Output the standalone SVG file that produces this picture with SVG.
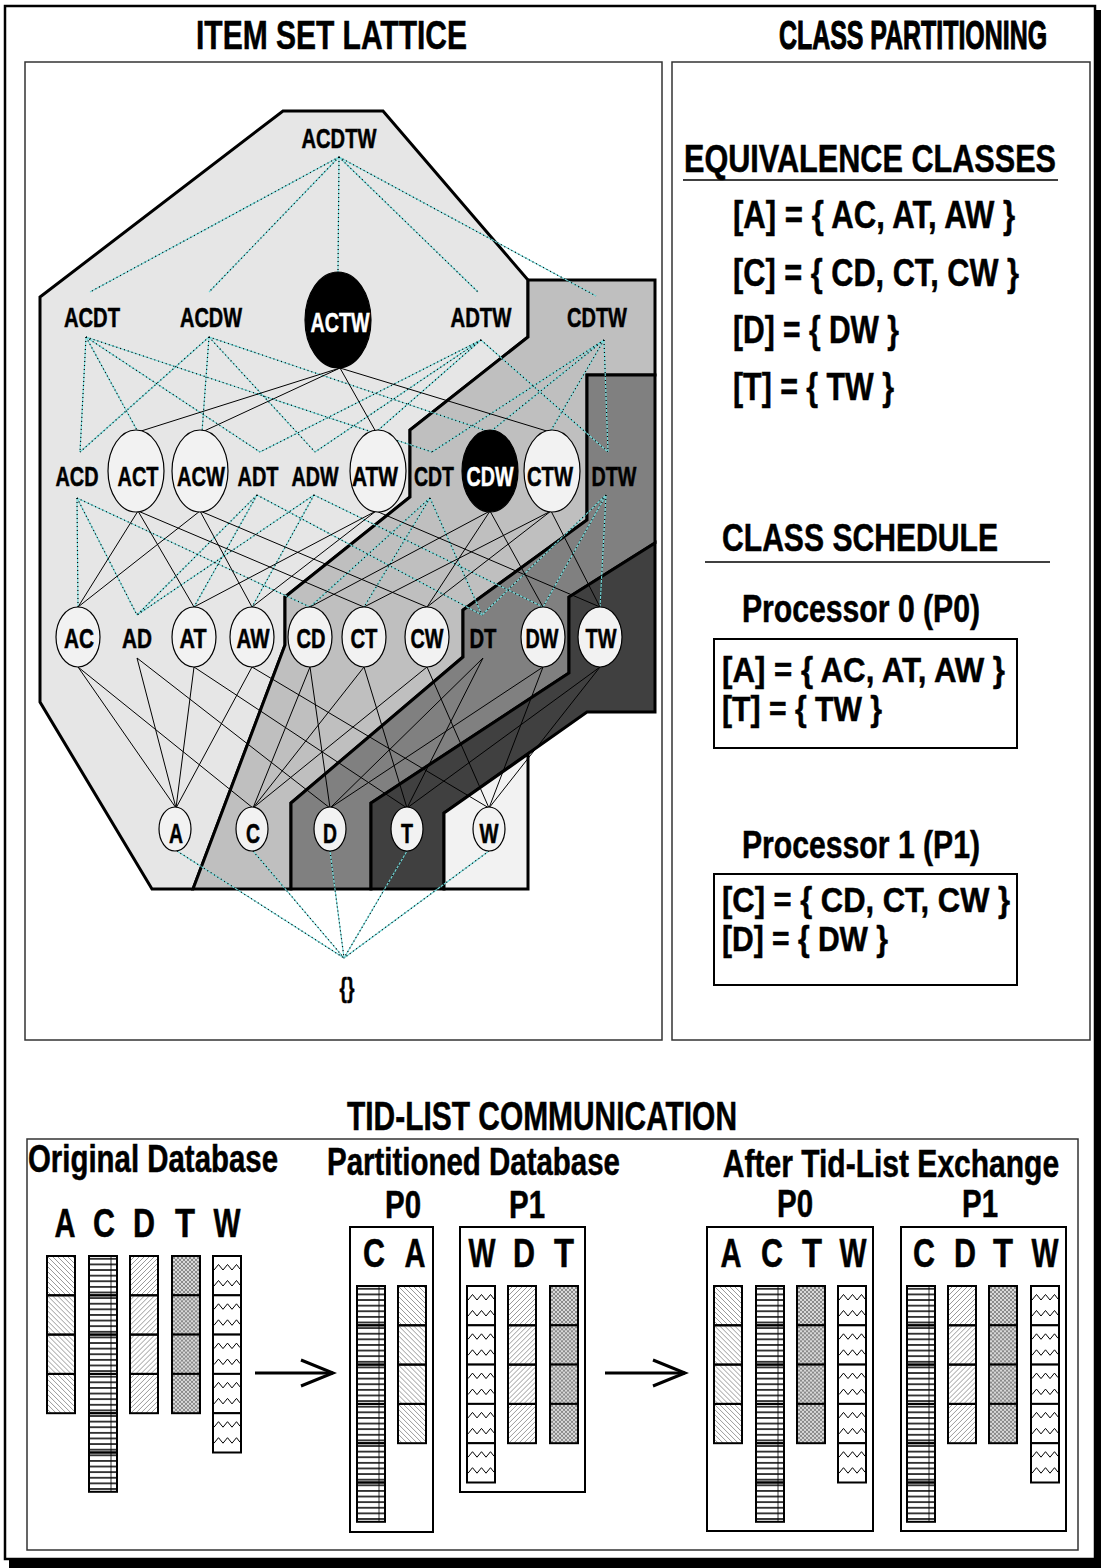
<svg xmlns="http://www.w3.org/2000/svg" width="1101" height="1568" viewBox="0 0 1101 1568">
<style>
text{font-family:"Liberation Sans",Arial,sans-serif;font-weight:bold;fill:#000;stroke:#000;stroke-width:0.5px}
.n{font-size:27px;text-anchor:middle}
.w{fill:#fff;stroke:#fff}
.t{font-size:38px}
.b{font-size:35px}
.T{font-size:40px}
.L{font-size:40px;text-anchor:middle}
.c{text-anchor:middle}
.hv{stroke-width:1.1px}
.el{fill:#f2f2f2;stroke:#000;stroke-width:1.2}
.blk{fill:#000;stroke:#000;stroke-width:1.2}
.reg{stroke:#000;stroke-width:3;stroke-linejoin:miter}
.panel{fill:none;stroke:#333;stroke-width:1.5}
.box{fill:none;stroke:#000;stroke-width:2}
</style>
<defs>
<pattern id="pA" patternUnits="userSpaceOnUse" width="5" height="5"><path d="M-1,-1L6,6M-1,4L1,6M4,-1L6,1" stroke="#333" stroke-width="0.5"/></pattern>
<pattern id="pD" patternUnits="userSpaceOnUse" width="5" height="5"><path d="M-1,6L6,-1M-1,1L1,-1M4,6L6,4" stroke="#333" stroke-width="0.5"/></pattern>
<pattern id="pT" patternUnits="userSpaceOnUse" width="4" height="4"><rect width="4" height="4" fill="#d8d8d8"/><path d="M0,0L4,4M0,4L4,0" stroke="#555" stroke-width="0.6"/></pattern>
<pattern id="pC" patternUnits="userSpaceOnUse" width="28" height="5.614"><line x1="0" y1="2.8" x2="28" y2="2.8" stroke="#000" stroke-width="1.5"/></pattern>
<marker id="head" markerUnits="userSpaceOnUse" markerWidth="40" markerHeight="32" refX="34" refY="15" orient="auto"><path d="M2,2L34,15L2,28" fill="none" stroke="#000" stroke-width="3"/></marker>
<g id="cA"><rect width="28" height="39.3" fill="url(#pA)" stroke="#000" stroke-width="2"/></g>
<g id="cD"><rect width="28" height="39.3" fill="url(#pD)" stroke="#000" stroke-width="2"/></g>
<g id="cT"><rect width="28" height="39.3" fill="url(#pT)" stroke="#000" stroke-width="2"/></g>
<g id="cC"><rect width="28" height="39.3" fill="url(#pC)" stroke="#000" stroke-width="2"/><line x1="22" y1="0" x2="22" y2="39.3" stroke="#000" stroke-width="0.8"/></g>
<g id="cW"><rect width="28" height="39.3" fill="#fff" stroke="#000" stroke-width="2"/><polyline points="1,14 5.5,8.5 10,14 14.5,8.5 19,14 23.5,8.5 27,13" fill="none" stroke="#000" stroke-width="1"/><polyline points="1,30 5.5,24.5 10,30 14.5,24.5 19,30 23.5,24.5 27,29" fill="none" stroke="#000" stroke-width="1"/></g>
<g id="colA"><use href="#cA"/><use href="#cA" y="39.3"/><use href="#cA" y="78.6"/><use href="#cA" y="117.9"/></g>
<g id="colD"><use href="#cD"/><use href="#cD" y="39.3"/><use href="#cD" y="78.6"/><use href="#cD" y="117.9"/></g>
<g id="colT"><use href="#cT"/><use href="#cT" y="39.3"/><use href="#cT" y="78.6"/><use href="#cT" y="117.9"/></g>
<g id="colW"><use href="#cW"/><use href="#cW" y="39.3"/><use href="#cW" y="78.6"/><use href="#cW" y="117.9"/><use href="#cW" y="157.2"/></g>
<g id="colC"><use href="#cC"/><use href="#cC" y="39.3"/><use href="#cC" y="78.6"/><use href="#cC" y="117.9"/><use href="#cC" y="157.2"/><use href="#cC" y="196.5"/></g>
</defs>

<!-- outer frame -->
<rect x="1095" y="10" width="6" height="1558" fill="#000"/>
<rect x="9" y="1559" width="1092" height="9" fill="#000"/>
<rect x="5" y="6" width="1090" height="1553" fill="#fff" stroke="#000" stroke-width="2.5"/>

<!-- titles -->
<text class="T" x="196" y="49" textLength="271" lengthAdjust="spacingAndGlyphs">ITEM SET LATTICE</text>
<text class="T c hv" transform="translate(913,49) scale(0.623,1)">CLASS PARTITIONING</text>

<!-- panels -->
<rect class="panel" x="25" y="62" width="637" height="978"/>
<rect class="panel" x="672" y="62" width="418" height="978"/>

<!-- class regions -->
<g id="regions">
<polygon class="reg" fill="#e6e6e6" points="283,111 383,111 528,280 528,337 410,430 410,497 285,597 285,645 193,889 152,889 40,702 40,297"/>
<polygon class="reg" fill="#bfbfbf" points="528,280 655,280 655,375 587,375 587,520 463,610 463,657 291,803 291,889 193,889 285,645 285,597 410,497 410,430 528,337"/>
<polygon class="reg" fill="#808080" points="587,375 655,375 655,543 569,597 569,673 371,803 371,889 291,889 291,803 463,657 463,610 587,520"/>
<polygon class="reg" fill="#404040" points="655,543 655,712 587,712 444,813 444,889 371,889 371,803 569,673 569,597"/>
<polygon class="reg" fill="#f2f2f2" points="528,754 528,889 444,889 444,813"/>
</g>

<!-- connectors -->
<g id="connectors" fill="none">
<g stroke="#70d8d8" stroke-width="1.1">
<g id="dotted">
<line x1="339" y1="157" x2="90" y2="292"/>
<line x1="339" y1="157" x2="209" y2="292"/>
<line x1="339" y1="157" x2="338" y2="272"/>
<line x1="339" y1="157" x2="478" y2="292"/>
<line x1="339" y1="157" x2="596" y2="296"/>
<line x1="86" y1="337" x2="80" y2="452"/>
<line x1="86" y1="337" x2="138" y2="432"/>
<line x1="86" y1="337" x2="260" y2="452"/>
<line x1="86" y1="337" x2="432" y2="452"/>
<line x1="209" y1="337" x2="80" y2="452"/>
<line x1="209" y1="337" x2="202" y2="432"/>
<line x1="209" y1="337" x2="315" y2="452"/>
<line x1="209" y1="337" x2="490" y2="432"/>
<line x1="481" y1="340" x2="260" y2="452"/>
<line x1="481" y1="340" x2="315" y2="452"/>
<line x1="481" y1="340" x2="376" y2="432"/>
<line x1="481" y1="340" x2="608" y2="452"/>
<line x1="604" y1="340" x2="432" y2="452"/>
<line x1="604" y1="340" x2="490" y2="432"/>
<line x1="604" y1="340" x2="550" y2="432"/>
<line x1="604" y1="340" x2="608" y2="452"/>
<line x1="77" y1="498" x2="78" y2="607"/>
<line x1="77" y1="498" x2="137" y2="615"/>
<line x1="77" y1="498" x2="310" y2="607"/>
<line x1="257" y1="495" x2="137" y2="615"/>
<line x1="257" y1="495" x2="194" y2="607"/>
<line x1="257" y1="495" x2="482" y2="615"/>
<line x1="314" y1="495" x2="137" y2="615"/>
<line x1="314" y1="495" x2="252" y2="607"/>
<line x1="314" y1="495" x2="543" y2="607"/>
<line x1="430" y1="498" x2="310" y2="607"/>
<line x1="430" y1="498" x2="364" y2="607"/>
<line x1="430" y1="498" x2="482" y2="615"/>
<line x1="606" y1="495" x2="482" y2="615"/>
<line x1="606" y1="495" x2="543" y2="607"/>
<line x1="606" y1="495" x2="600" y2="607"/>
<line x1="177" y1="851" x2="344" y2="958"/>
<line x1="253" y1="851" x2="344" y2="958"/>
<line x1="330" y1="851" x2="344" y2="958"/>
<line x1="407" y1="851" x2="344" y2="958"/>
<line x1="489" y1="851" x2="344" y2="958"/>
</g>
</g>
<use href="#dotted" stroke="#000" stroke-width="1.2" stroke-dasharray="1 3"/>
<g stroke="#000" stroke-width="1">
<line x1="340" y1="368" x2="138" y2="432"/>
<line x1="340" y1="368" x2="202" y2="432"/>
<line x1="340" y1="368" x2="376" y2="432"/>
<line x1="340" y1="368" x2="550" y2="432"/>
<line x1="138" y1="511" x2="78" y2="607"/>
<line x1="138" y1="511" x2="194" y2="607"/>
<line x1="138" y1="511" x2="364" y2="607"/>
<line x1="200" y1="511" x2="78" y2="607"/>
<line x1="200" y1="511" x2="252" y2="607"/>
<line x1="200" y1="511" x2="427" y2="607"/>
<line x1="376" y1="511" x2="194" y2="607"/>
<line x1="376" y1="511" x2="252" y2="607"/>
<line x1="376" y1="511" x2="600" y2="607"/>
<line x1="490" y1="511" x2="310" y2="607"/>
<line x1="490" y1="511" x2="427" y2="607"/>
<line x1="490" y1="511" x2="543" y2="607"/>
<line x1="551" y1="511" x2="364" y2="607"/>
<line x1="551" y1="511" x2="427" y2="607"/>
<line x1="551" y1="511" x2="600" y2="607"/>
<line x1="78" y1="667" x2="176" y2="808"/>
<line x1="78" y1="667" x2="253" y2="808"/>
<line x1="137" y1="658" x2="176" y2="808"/>
<line x1="137" y1="658" x2="330" y2="808"/>
<line x1="194" y1="667" x2="176" y2="808"/>
<line x1="194" y1="667" x2="407" y2="808"/>
<line x1="252" y1="667" x2="176" y2="808"/>
<line x1="252" y1="667" x2="489" y2="808"/>
<line x1="310" y1="667" x2="253" y2="808"/>
<line x1="310" y1="667" x2="330" y2="808"/>
<line x1="364" y1="667" x2="253" y2="808"/>
<line x1="364" y1="667" x2="407" y2="808"/>
<line x1="427" y1="667" x2="253" y2="808"/>
<line x1="427" y1="667" x2="489" y2="808"/>
<line x1="483" y1="658" x2="330" y2="808"/>
<line x1="483" y1="658" x2="407" y2="808"/>
<line x1="543" y1="667" x2="330" y2="808"/>
<line x1="543" y1="667" x2="489" y2="808"/>
<line x1="600" y1="667" x2="407" y2="808"/>
<line x1="600" y1="667" x2="489" y2="808"/>
</g>
<g stroke="#000" stroke-width="3" marker-end="url(#head)">
<line x1="255" y1="1373" x2="333" y2="1373"/>
<line x1="605" y1="1373" x2="685" y2="1373"/>
</g>
</g>

<!-- lattice nodes -->
<g id="n-ACDTW"><text class="n" x="339" y="148" textLength="75" lengthAdjust="spacingAndGlyphs">ACDTW</text></g>
<g id="n-ACDT"><text class="n" x="92" y="327" textLength="56" lengthAdjust="spacingAndGlyphs">ACDT</text></g>
<g id="n-ACDW"><text class="n" x="211" y="327" textLength="62" lengthAdjust="spacingAndGlyphs">ACDW</text></g>
<g id="n-ACTW"><ellipse class="blk" cx="338" cy="320" rx="33" ry="48"/><text class="n w" x="340" y="332" textLength="59" lengthAdjust="spacingAndGlyphs">ACTW</text></g>
<g id="n-ADTW"><text class="n" x="481" y="327" textLength="61" lengthAdjust="spacingAndGlyphs">ADTW</text></g>
<g id="n-CDTW"><text class="n" x="597" y="327" textLength="60" lengthAdjust="spacingAndGlyphs">CDTW</text></g>

<g id="n-ACD"><text class="n" x="77" y="486" textLength="43" lengthAdjust="spacingAndGlyphs">ACD</text></g>
<g id="n-ACT"><ellipse class="el" cx="136" cy="471" rx="28" ry="41"/><text class="n" x="138" y="486" textLength="41" lengthAdjust="spacingAndGlyphs">ACT</text></g>
<g id="n-ACW"><ellipse class="el" cx="200" cy="471" rx="28" ry="41"/><text class="n" x="201" y="486" textLength="48" lengthAdjust="spacingAndGlyphs">ACW</text></g>
<g id="n-ADT"><text class="n" x="258" y="486" textLength="41" lengthAdjust="spacingAndGlyphs">ADT</text></g>
<g id="n-ADW"><text class="n" x="315" y="486" textLength="47" lengthAdjust="spacingAndGlyphs">ADW</text></g>
<g id="n-ATW"><ellipse class="el" cx="378" cy="471" rx="28" ry="41"/><text class="n" x="375" y="486" textLength="46" lengthAdjust="spacingAndGlyphs">ATW</text></g>
<g id="n-CDT"><text class="n" x="434" y="486" textLength="40" lengthAdjust="spacingAndGlyphs">CDT</text></g>
<g id="n-CDW"><ellipse class="blk" cx="490" cy="471" rx="28" ry="41"/><text class="n w" x="490" y="486" textLength="47" lengthAdjust="spacingAndGlyphs">CDW</text></g>
<g id="n-CTW"><ellipse class="el" cx="552" cy="471" rx="28" ry="41"/><text class="n" x="550" y="486" textLength="46" lengthAdjust="spacingAndGlyphs">CTW</text></g>
<g id="n-DTW"><text class="n" x="614" y="486" textLength="45" lengthAdjust="spacingAndGlyphs">DTW</text></g>

<g id="n-AC"><ellipse class="el" cx="78" cy="637" rx="22" ry="30"/><text class="n" x="79" y="648" textLength="30" lengthAdjust="spacingAndGlyphs">AC</text></g>
<g id="n-AD"><text class="n" x="137" y="648" textLength="30" lengthAdjust="spacingAndGlyphs">AD</text></g>
<g id="n-AT"><ellipse class="el" cx="194" cy="637" rx="22" ry="30"/><text class="n" x="193" y="648" textLength="27" lengthAdjust="spacingAndGlyphs">AT</text></g>
<g id="n-AW"><ellipse class="el" cx="252" cy="637" rx="22" ry="30"/><text class="n" x="253" y="648" textLength="33" lengthAdjust="spacingAndGlyphs">AW</text></g>
<g id="n-CD"><ellipse class="el" cx="310" cy="637" rx="22" ry="30"/><text class="n" x="311" y="648" textLength="29" lengthAdjust="spacingAndGlyphs">CD</text></g>
<g id="n-CT"><ellipse class="el" cx="364" cy="637" rx="22" ry="30"/><text class="n" x="364" y="648" textLength="27" lengthAdjust="spacingAndGlyphs">CT</text></g>
<g id="n-CW"><ellipse class="el" cx="427" cy="637" rx="22" ry="30"/><text class="n" x="427" y="648" textLength="33" lengthAdjust="spacingAndGlyphs">CW</text></g>
<g id="n-DT"><text class="n" x="483" y="648" textLength="27" lengthAdjust="spacingAndGlyphs">DT</text></g>
<g id="n-DW"><ellipse class="el" cx="543" cy="637" rx="22" ry="30"/><text class="n" x="542" y="648" textLength="33" lengthAdjust="spacingAndGlyphs">DW</text></g>
<g id="n-TW"><ellipse class="el" cx="600" cy="637" rx="22" ry="30"/><text class="n" x="601" y="648" textLength="31" lengthAdjust="spacingAndGlyphs">TW</text></g>

<g id="n-A"><ellipse class="el" cx="175" cy="829" rx="16" ry="22"/><text class="n" x="176" y="843" textLength="14" lengthAdjust="spacingAndGlyphs">A</text></g>
<g id="n-C"><ellipse class="el" cx="252" cy="829" rx="16" ry="22"/><text class="n" x="253" y="843" textLength="14" lengthAdjust="spacingAndGlyphs">C</text></g>
<g id="n-D"><ellipse class="el" cx="330" cy="829" rx="16" ry="22"/><text class="n" x="330" y="843" textLength="14" lengthAdjust="spacingAndGlyphs">D</text></g>
<g id="n-T"><ellipse class="el" cx="407" cy="829" rx="16" ry="22"/><text class="n" x="407" y="843" textLength="12" lengthAdjust="spacingAndGlyphs">T</text></g>
<g id="n-W"><ellipse class="el" cx="489" cy="829" rx="16" ry="22"/><text class="n" x="489" y="843" textLength="19" lengthAdjust="spacingAndGlyphs">W</text></g>
<g id="n-empty"><text class="n" x="347" y="997" textLength="15" lengthAdjust="spacingAndGlyphs">{}</text></g>

<!-- class partitioning panel -->
<g id="equivalence">
<text class="t c" transform="translate(870,172) scale(0.806,1)">EQUIVALENCE CLASSES</text>
<line x1="683" y1="180" x2="1058" y2="180" stroke="#000" stroke-width="1.5"/>
<text class="t" x="733" y="228" textLength="282" lengthAdjust="spacingAndGlyphs">[A] = { AC, AT, AW }</text>
<text class="t" x="733" y="286" textLength="286" lengthAdjust="spacingAndGlyphs">[C] = { CD, CT, CW }</text>
<text class="t" x="733" y="343" textLength="166" lengthAdjust="spacingAndGlyphs">[D] = { DW }</text>
<text class="t" x="733" y="400" textLength="161" lengthAdjust="spacingAndGlyphs">[T] = { TW }</text>
</g>
<g id="schedule">
<text class="t" x="722" y="551" textLength="276" lengthAdjust="spacingAndGlyphs">CLASS SCHEDULE</text>
<line x1="705" y1="562" x2="1050" y2="562" stroke="#000" stroke-width="1.5"/>
</g>
<g id="proc0">
<text class="t" x="742" y="622" textLength="238" lengthAdjust="spacingAndGlyphs">Processor 0 (P0)</text>
<rect class="box" x="714" y="639" width="303" height="109"/>
<text class="b" x="722" y="682" textLength="283" lengthAdjust="spacingAndGlyphs">[A] = { AC, AT, AW }</text>
<text class="b" x="722" y="721" textLength="160" lengthAdjust="spacingAndGlyphs">[T] = { TW }</text>
</g>
<g id="proc1">
<text class="t" x="742" y="858" textLength="238" lengthAdjust="spacingAndGlyphs">Processor 1 (P1)</text>
<rect class="box" x="714" y="874" width="303" height="111"/>
<text class="b" x="722" y="912" textLength="288" lengthAdjust="spacingAndGlyphs">[C] = { CD, CT, CW }</text>
<text class="b" x="722" y="951" textLength="166" lengthAdjust="spacingAndGlyphs">[D] = { DW }</text>
</g>

<!-- tid-list communication -->
<text class="T" x="347" y="1130" textLength="390" lengthAdjust="spacingAndGlyphs">TID-LIST COMMUNICATION</text>
<rect class="panel" x="27" y="1139" width="1051" height="411"/>

<g id="original-db">
<text class="t" x="28" y="1172" textLength="250" lengthAdjust="spacingAndGlyphs">Original Database</text>
<text class="L" x="65" y="1237" textLength="21" lengthAdjust="spacingAndGlyphs">A</text>
<text class="L" x="104" y="1237" textLength="22" lengthAdjust="spacingAndGlyphs">C</text>
<text class="L" x="144" y="1237" textLength="22" lengthAdjust="spacingAndGlyphs">D</text>
<text class="L" x="185" y="1237" textLength="20" lengthAdjust="spacingAndGlyphs">T</text>
<text class="L" x="227" y="1237" textLength="27" lengthAdjust="spacingAndGlyphs">W</text>
<use href="#colA" x="47" y="1256"/>
<use href="#colC" x="89" y="1256"/>
<use href="#colD" x="130" y="1256"/>
<use href="#colT" x="172" y="1256"/>
<use href="#colW" x="213" y="1256"/>
</g>

<g id="partitioned-db">
<text class="t" x="327" y="1175" textLength="293" lengthAdjust="spacingAndGlyphs">Partitioned Database</text>
<text class="t c" x="403" y="1218" textLength="36" lengthAdjust="spacingAndGlyphs">P0</text>
<text class="t c" x="527" y="1218" textLength="36" lengthAdjust="spacingAndGlyphs">P1</text>
<rect class="box" x="350" y="1227" width="83" height="305"/>
<rect class="box" x="460" y="1227" width="125" height="265"/>
<text class="L" x="374" y="1267" textLength="22" lengthAdjust="spacingAndGlyphs">C</text>
<text class="L" x="415" y="1267" textLength="21" lengthAdjust="spacingAndGlyphs">A</text>
<text class="L" x="482" y="1267" textLength="27" lengthAdjust="spacingAndGlyphs">W</text>
<text class="L" x="524" y="1267" textLength="22" lengthAdjust="spacingAndGlyphs">D</text>
<text class="L" x="564" y="1267" textLength="20" lengthAdjust="spacingAndGlyphs">T</text>
<use href="#colC" x="357" y="1286"/>
<use href="#colA" x="398" y="1286"/>
<use href="#colW" x="467" y="1286"/>
<use href="#colD" x="508" y="1286"/>
<use href="#colT" x="550" y="1286"/>
</g>

<g id="exchanged-db">
<text class="t c" transform="translate(891,1177) scale(0.79,1)">After Tid-List Exchange</text>
<text class="t c" x="795" y="1217" textLength="36" lengthAdjust="spacingAndGlyphs">P0</text>
<text class="t c" x="980" y="1217" textLength="36" lengthAdjust="spacingAndGlyphs">P1</text>
<rect class="box" x="707" y="1227" width="166" height="304"/>
<rect class="box" x="901" y="1227" width="165" height="304"/>
<text class="L" x="731" y="1267" textLength="21" lengthAdjust="spacingAndGlyphs">A</text>
<text class="L" x="772" y="1267" textLength="22" lengthAdjust="spacingAndGlyphs">C</text>
<text class="L" x="812" y="1267" textLength="20" lengthAdjust="spacingAndGlyphs">T</text>
<text class="L" x="853" y="1267" textLength="27" lengthAdjust="spacingAndGlyphs">W</text>
<text class="L" x="924" y="1267" textLength="22" lengthAdjust="spacingAndGlyphs">C</text>
<text class="L" x="965" y="1267" textLength="22" lengthAdjust="spacingAndGlyphs">D</text>
<text class="L" x="1003" y="1267" textLength="20" lengthAdjust="spacingAndGlyphs">T</text>
<text class="L" x="1045" y="1267" textLength="27" lengthAdjust="spacingAndGlyphs">W</text>
<use href="#colA" x="714" y="1286"/>
<use href="#colC" x="756" y="1286"/>
<use href="#colT" x="797" y="1286"/>
<use href="#colW" x="838" y="1286"/>
<use href="#colC" x="907" y="1286"/>
<use href="#colD" x="948" y="1286"/>
<use href="#colT" x="989" y="1286"/>
<use href="#colW" x="1031" y="1286"/>
</g>
</svg>
